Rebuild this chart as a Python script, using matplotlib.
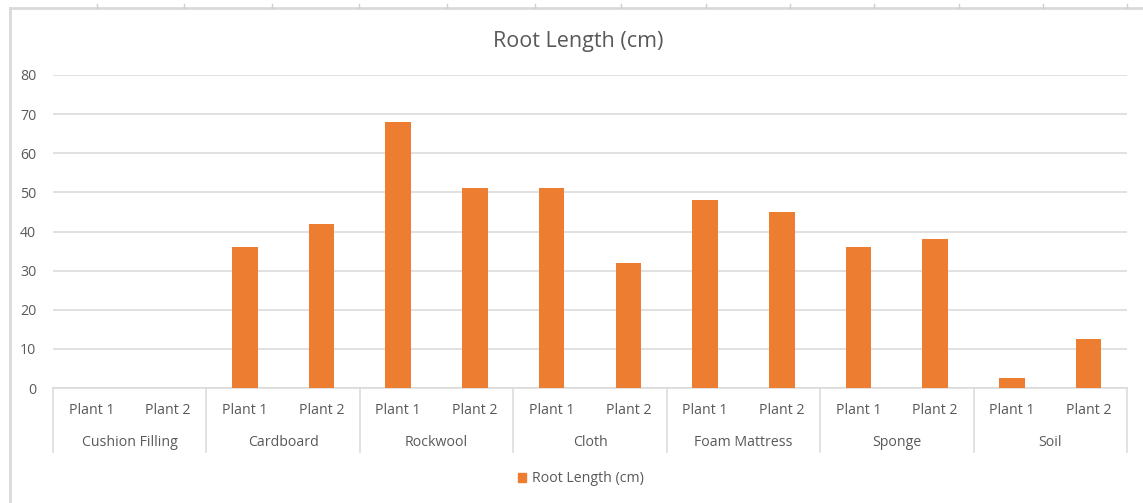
import matplotlib
matplotlib.use("Agg")
import matplotlib.pyplot as plt
import matplotlib.transforms as mtransforms
from matplotlib.patches import Patch
from matplotlib.lines import Line2D
import numpy as np

groups = ["Cushion Filling", "Cardboard", "Rockwool", "Cloth", "Foam Mattress", "Sponge", "Soil"]
plants = ["Plant 1", "Plant 2"]
plant1 = [0, 36, 68, 51, 48, 36, 2.5]
plant2 = [0, 42, 51, 32, 45, 38, 12.5]
series_name = "Root Length (cm)"
yticks = [0, 10, 20, 30, 40, 50, 60, 70, 80]

values = []
labels = []
for a, b in zip(plant1, plant2):
    values += [a, b]
    labels += plants

plt.rcParams['font.family'] = ['Open Sans', 'DejaVu Sans']
TXT = "#595959"
GRID = "#d9d9d9"
BAR = "#ED7D31"
FS = 10.2

W, H = 1143, 503
fig = plt.figure(figsize=(W / 100, H / 100), dpi=100)
ax = fig.add_axes([53 / W, 1 - 388 / H, (1127 - 53) / W, (388 - 75) / H])

x = np.arange(len(values))
ax.bar(x, values, width=1 / 3, color=BAR, zorder=3, label=series_name)
ax.set_xlim(-0.5, len(values) - 0.5)
ax.set_ylim(0, 80)
ax.set_yticks(yticks)
ax.set_yticklabels([str(v) for v in yticks], color=TXT, fontsize=FS)
ax.tick_params(axis='y', length=0, pad=12)
ax.set_xticks([])
ax.grid(axis='y', color=GRID, linewidth=1.1, zorder=0)
for s in ["left", "right", "top"]:
    ax.spines[s].set_visible(False)
ax.spines["bottom"].set_color(GRID)
ax.spines["bottom"].set_linewidth(1.1)

trans = mtransforms.blended_transform_factory(ax.transData, ax.transAxes)
sep_bottom = -(452 - 388) / (388 - 75)
for g in range(len(groups) + 1):
    xs = g * 2 - 0.5
    ax.add_line(Line2D([xs, xs], [0, sep_bottom], transform=trans, color=GRID,
                       linewidth=1.1, clip_on=False))
for i, lab in enumerate(labels):
    ax.text(i, -(411 - 388) / 313, lab, transform=trans, ha='center', va='center',
            color=TXT, fontsize=FS)
for g, name in enumerate(groups):
    ax.text(g * 2 + 0.5, -(443 - 388) / 313, name, transform=trans, ha='center',
            va='center', color=TXT, fontsize=FS)

fig.text(578 / W, 1 - 42 / H, series_name, ha='center', va='center', color=TXT, fontsize=15.5)

fig.legend(handles=[Patch(color=BAR, label=series_name)], loc='center',
           bbox_to_anchor=(581 / W, 1 - 479 / H), frameon=False, fontsize=FS,
           labelcolor=TXT, handlelength=0.6, handleheight=0.6, handletextpad=0.4)

# outer frame (spreadsheet border)
fig.add_artist(Line2D([10 / W, 10 / W], [0, 1 - 8 / H], color="#d9d9d9", linewidth=2,
                      transform=fig.transFigure))
fig.add_artist(Line2D([10 / W, 1], [1 - 8 / H, 1 - 8 / H], color="#d9d9d9", linewidth=2,
                      transform=fig.transFigure))
for tx in [97, 184, 272, 359, 447, 535, 621, 706, 790, 874, 959, 1043, 1127]:
    fig.add_artist(Line2D([tx / W, tx / W], [1 - 8 / H, 1 - 4 / H], color="#cfcfcf",
                          linewidth=1, transform=fig.transFigure))

fig.savefig("out.png", dpi=100, facecolor="white")
